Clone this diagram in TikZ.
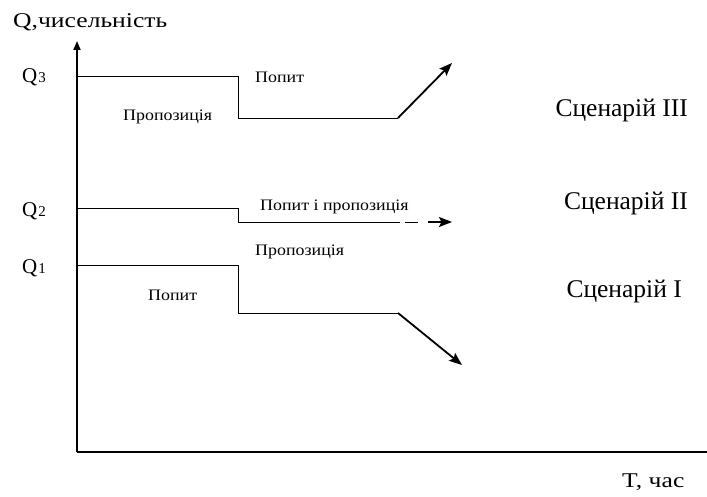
\documentclass[tikz,border=0pt]{standalone}
\usepackage{fontspec}
\setmainfont{Liberation Serif}
\newfontfamily\titlefam[FakeStretch=1.22]{Liberation Serif}
\newfontfamily\smallfam[FakeStretch=1.12]{Liberation Serif}
\usetikzlibrary{arrows.meta}
\begin{document}
\begin{tikzpicture}[x=1pt,y=-1pt,
  axis/.style={line width=1.8pt,-{Triangle[length=9pt,width=7pt]}},
  curve/.style={line width=0.9pt},
  trend/.style={line width=1.8pt,-{Stealth[length=13pt,width=10pt,inset=2.5pt]}},
  small/.style={font=\smallfam\fontsize{16}{16}\selectfont,inner sep=0pt},
  big/.style={font=\fontsize{25.5}{25.5}\selectfont,inner sep=0pt},
  ttl/.style={font=\titlefam\fontsize{21}{21}\selectfont,inner sep=0pt},
  qlab/.style={font=\fontsize{21}{21}\selectfont,inner sep=0pt}]
\useasboundingbox (0,0) rectangle (707,497);
% axes
\coordinate (O) at (77,452);
\coordinate (Ytop) at (77,41);
\coordinate (Xend) at (716,452);
\draw[axis] (O) -- (Ytop);
\draw[axis] (O) -- (Xend);
\node[ttl,anchor=base west] (ylab) at (13,28) {Q,чисельність};
\node[ttl,anchor=base west] (xlab) at (622,487) {T, час};
% scenario III
\coordinate (a0) at (77,76);
\coordinate (a1) at (238,76);
\coordinate (a2) at (238,118);
\coordinate (a3) at (398,118);
\coordinate (a4) at (452,63);
\draw[curve] (a0) -- (a1) -- (a2) -- (a3);
\draw[trend] (a3) -- (a4);
% scenario II
\coordinate (b0) at (77,208);
\coordinate (b1) at (238,208);
\coordinate (b2) at (238,222);
\coordinate (b3) at (400,222);
\coordinate (b3a) at (405,222);
\coordinate (b4) at (418,222);
\coordinate (b4a) at (428,222);
\coordinate (b5) at (452,222);
\draw[curve] (b0) -- (b1) -- (b2) -- (b3);
\draw[curve] (b3a) -- (b4);
\draw[trend] (b4a) -- (b5);
% scenario I
\coordinate (c0) at (77,265);
\coordinate (c1) at (238,265);
\coordinate (c2) at (238,313);
\coordinate (c3) at (398,313);
\coordinate (c4) at (462,365);
\draw[curve] (c0) -- (c1) -- (c2) -- (c3);
\draw[trend] (c3) -- (c4);
% Q labels
\node[qlab,anchor=base west] (q3) at (22,83) {Q{\fontsize{15}{15}\selectfont\hspace{1pt}3}};
\node[qlab,anchor=base west] (q2) at (22,217) {Q{\fontsize{15}{15}\selectfont\hspace{1pt}2}};
\node[qlab,anchor=base west] (q1) at (22,273) {Q{\fontsize{15}{15}\selectfont\hspace{1pt}1}};
% small labels
\node[small,anchor=base west] (l1) at (255,83) {Попит};
\node[small,anchor=base west] (l2) at (123,121) {Пропозиція};
\node[small,anchor=base west] (l3) at (260,211) {Попит і пропозиція};
\node[small,anchor=base west] (l4) at (255,255) {Пропозиція};
\node[small,anchor=base west] (l5) at (148,300) {Попит};
% scenario labels
\node[big,anchor=base east] (s3) at (688,117) {Сценарій III};
\node[big,anchor=base east] (s2) at (688,210) {Сценарій II};
\node[big,anchor=base east] (s1) at (682,298) {Сценарій I};
\end{tikzpicture}
\end{document}
